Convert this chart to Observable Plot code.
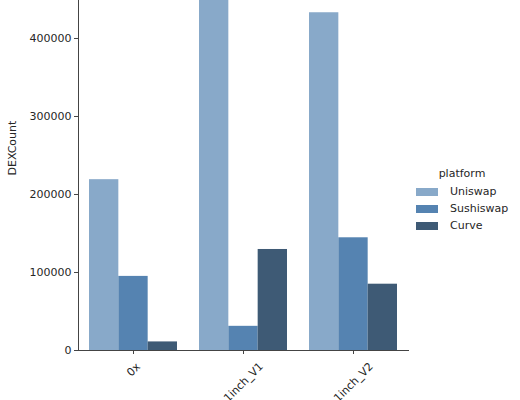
<!DOCTYPE html>
<html>
<head>
<meta charset="utf-8">
<script src="https://cdn.jsdelivr.net/npm/d3@7"></script>
<script src="https://cdn.jsdelivr.net/npm/@observablehq/plot@0.6"></script>
<style>
  html, body { margin: 0; padding: 0; background: #fff; }
  #wrap { position: relative; width: 520px; height: 400px; overflow: hidden; font-family: "DejaVu Sans", sans-serif; }
  #legend { position: absolute; left: 412px; top: 167px; font-size: 11px; color: #262626; }
  #legend .title { text-align: center; width: 100px; margin-left: 0px; margin-bottom: 3px; }
  #legend .item { display: flex; align-items: center; height: 17px; }
  #legend .sw { width: 22px; height: 8px; margin-left: 4px; margin-right: 12px; }
</style>
</head>
<body>
<div id="wrap"></div>
<script>
const categories = ["0x", "1inch_V1", "1inch_V2"];
const platforms = ["Uniswap", "Sushiswap", "Curve"];
const uniswap = [219000, 470000, 433000];
const sushiswap = [95000, 31000, 144500];
const curve = [11000, 129500, 85000];
const yTicks = [0, 100000, 200000, 300000, 400000];
const colors = ["#88a9c9", "#5583b1", "#3e5a75"];

const series = [uniswap, sushiswap, curve];
const data = [];
platforms.forEach((p, i) => categories.forEach((c, j) => data.push({category: c, platform: p, value: series[i][j]})));

const W = 520, H = 400, mL = 78, mR = 112, mT = 0, mB = 50;
const pInner = 0.2, pOuter = 0.1;
const step = (W - mL - mR) / (categories.length - pInner + 2 * pOuter);
const bw = step * (1 - pInner);
const barW = bw / platforms.length;
const ink = "#262626";

const barMarks = platforms.map((p, i) =>
  Plot.barY(data.filter(d => d.platform === p), {
    x: "category", y: "value", fill: colors[i],
    insetLeft: i * barW, insetRight: (platforms.length - 1 - i) * barW,
    clip: true
  })
);

// rotated tick labels, centered on tick like matplotlib (ha=center, rotation=45)
const labelMarks = categories.map(c => {
  const len = c.length * 6.0 + 11;
  const half = len * Math.SQRT1_2 / 2;
  return Plot.text([c], {
    x: d => d, text: d => d, frameAnchor: "bottom",
    rotate: -45, textAnchor: "middle", lineAnchor: "middle",
    dy: 11 + half, fontSize: 11, fill: ink
  });
});

const chart = Plot.plot({
  width: W, height: H,
  marginLeft: mL, marginRight: mR, marginTop: mT, marginBottom: mB,
  style: {fontFamily: "DejaVu Sans, sans-serif", fontSize: "11px", color: ink, background: "#fff", overflow: "visible"},
  x: {domain: categories, paddingInner: pInner, paddingOuter: pOuter, axis: null},
  y: {domain: [0, 448700], axis: null},
  marks: [
    ...barMarks,
    Plot.axisY(yTicks, {tickFormat: d3.format("d"), tickSize: 4, tickPadding: 3, stroke: "#444", fill: ink, fontSize: 11, label: null}),
    Plot.axisX(categories, {tickSize: 4, stroke: "#444", tickFormat: () => "", label: null}),
    Plot.frame({anchor: "left", stroke: "#444"}),
    Plot.frame({anchor: "bottom", stroke: "#444"}),
    ...labelMarks,
    Plot.text(["DEXCount"], {frameAnchor: "left", text: d => d, rotate: -90, dx: -66, fontSize: 11, fill: ink})
  ]
});
const wrap = document.getElementById("wrap");
wrap.appendChild(chart);

const lg = document.createElement("div");
lg.id = "legend";
lg.innerHTML = '<div class="title">platform</div>' + platforms.map((p, i) =>
  `<div class="item"><span class="sw" style="background:${colors[i]}"></span><span>${p}</span></div>`).join("");
wrap.appendChild(lg);
</script>
</body>
</html>
